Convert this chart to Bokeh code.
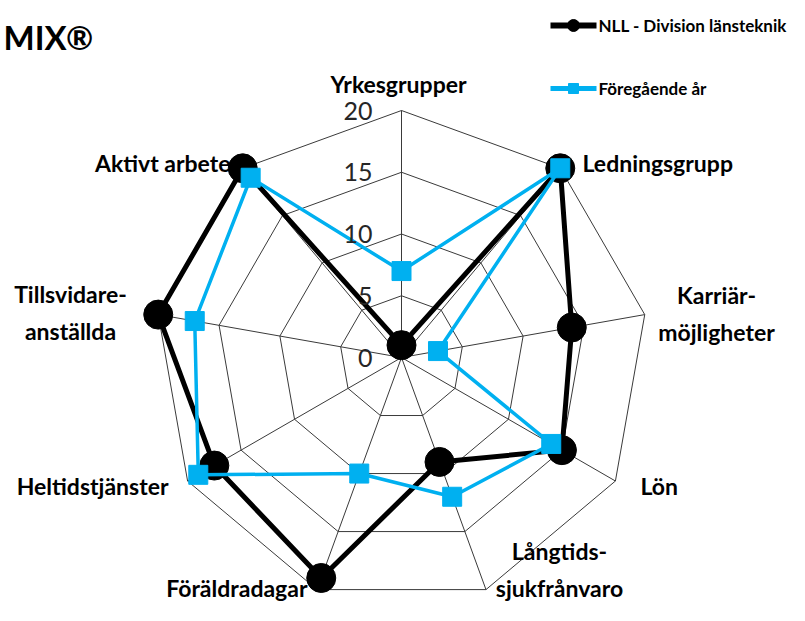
import numpy as np
from bokeh.plotting import figure
from bokeh.models import Range1d, ColumnDataSource
from bokeh.core.properties import value
from bokeh.embed import file_html
from bokeh.resources import INLINE

# ---------------- data ----------------
categories = ["Yrkesgrupper", "Ledningsgrupp", "Karriär-\nmöjligheter", "Lön",
              "Långtids-\nsjukfrånvaro", "Föräldradagar", "Heltidstjänster",
              "Tillsvidare-\nanställda", "Aktivt arbete"]
nll_values = [1, 20, 14, 15, 9, 19, 17.5, 20, 20]
prev_values = [7, 20, 3, 14, 12, 10, 19, 17, 19]
tick_values = [0, 5, 10, 15, 20]
tick_labels = ["0", "5", "10", "15", "20"]
series_names = ["NLL - Division länsteknik", "Föregående år"]
title_text = "MIX®"

# ---------------- layout ----------------
AX_MAX = 20
R = 247                       # pixel radius of the outer ring
n = len(categories)
ang = np.arange(n) * 2 * np.pi / n     # clockwise from top

def polar(vals):
    v = np.asarray(vals, float) * R / AX_MAX
    return v * np.sin(ang), v * np.cos(ang)

BLACK = "#000000"
BLUE = "#00B0F0"
GRID = "#3a3a3a"
FONT = value("Lato")

p = figure(width=789, height=605, x_range=Range1d(-401, 388), y_range=Range1d(-248, 357),
           output_backend="svg", toolbar_location=None, x_axis_type=None, y_axis_type=None,
           min_border=0, outline_line_color=None)
p.grid.visible = False
p.background_fill_color = "white"
p.border_fill_color = "white"

# rings
rx, ry = [], []
for t in tick_values[1:]:
    x, y = polar([t] * n)
    rx.append(list(x) + [x[0]])
    ry.append(list(y) + [y[0]])
p.multi_line(rx, ry, line_color=GRID, line_width=1)

# spokes
ox, oy = polar([AX_MAX] * n)
p.segment(x0=np.zeros(n), y0=np.zeros(n), x1=ox, y1=oy, line_color=GRID, line_width=1)

# series
bx, by = polar(nll_values)
p.line(list(bx) + [bx[0]], list(by) + [by[0]], line_color=BLACK, line_width=5)
p.scatter(bx, by, marker="circle", size=29, fill_color=BLACK, line_color=BLACK)

cx, cy = polar(prev_values)
p.line(list(cx) + [cx[0]], list(cy) + [cy[0]], line_color=BLUE, line_width=3.5)
p.scatter(cx, cy, marker="square", size=19, fill_color=BLUE, line_color=BLUE)

# tick labels
tick_r = np.asarray(tick_values, float) * R / AX_MAX
p.text(x=[-29] * len(tick_values), y=tick_r, text=tick_labels, text_font=FONT,
       text_font_size="25px", text_color="#262626", text_align="right",
       text_baseline="middle")

# category labels (layout offsets in px from the centre)
lab_x = [-3, 181, 315, 239, 158, -94, -233, -331, -171]
lab_y = [274, 195, 44, -128, -212, -230, -128, 45, 195]
lab_align = ["center", "left", "center", "left", "center", "right", "right", "center", "right"]
src = ColumnDataSource(dict(x=lab_x, y=lab_y, text=categories, align=lab_align))
p.text(x="x", y="y", text="text", source=src, text_align="align", text_baseline="middle",
       text_font=FONT, text_font_style="bold", text_font_size="23px", text_color=BLACK,
       text_line_height=1.35)

# legend (manual)
p.line([149, 195], [332, 332], line_color=BLACK, line_width=6)
p.scatter([172], [332], marker="circle", size=12, fill_color=BLACK, line_color=BLACK)
p.line([149, 195], [269, 269], line_color=BLUE, line_width=5)
p.scatter([172], [269], marker="square", size=10, fill_color=BLUE, line_color=BLUE)
p.text(x=[197, 197], y=[332, 269], text=series_names, text_font=FONT, text_font_style="bold",
       text_font_size="17px", text_color=BLACK, text_baseline="middle", text_align="left")

# title
p.text(x=[-398], y=[321], text=[title_text], text_font=FONT, text_font_style="bold",
       text_font_size="33px", text_color=BLACK, text_align="left", text_baseline="alphabetic")

open("out.html", "w").write(file_html(p, INLINE))
